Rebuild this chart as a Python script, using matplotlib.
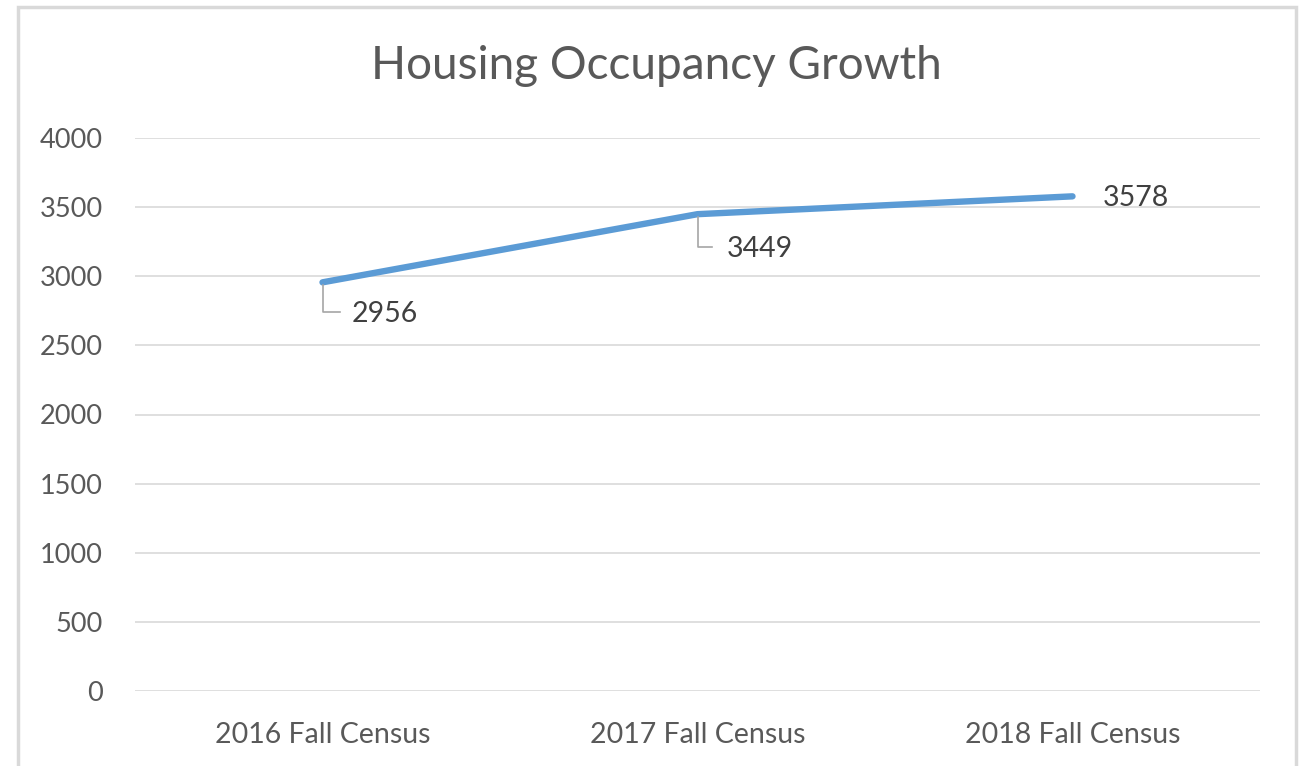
import matplotlib
matplotlib.use("Agg")
import matplotlib.pyplot as plt
from matplotlib.transforms import offset_copy
from matplotlib.patches import Rectangle
from matplotlib.lines import Line2D

categories = ["2016 Fall Census", "2017 Fall Census", "2018 Fall Census"]
values = [2956, 3449, 3578]
yticks = [0, 500, 1000, 1500, 2000, 2500, 3000, 3500, 4000]
title = "Housing Occupancy Growth"

plt.rcParams['font.family'] = ['Lato', 'DejaVu Sans']

W, H = 1304, 766
fig = plt.figure(figsize=(W / 100, H / 100), dpi=100)
ax = fig.add_axes([135 / W, 1 - 691 / H, (1260 - 135) / W, (691 - 138) / H])

# chart border
fig.patches.append(Rectangle((18 / W, -0.1), (1296 - 18) / W, 1.1 - 7 / H,
                             transform=fig.transFigure, fill=False,
                             edgecolor="#D9D9D9", linewidth=2.5))

xs = list(range(len(categories)))
ax.plot(xs, values, color="#5B9BD5", linewidth=4.6, solid_capstyle="round", zorder=3)

ax.set_xlim(-0.5, len(categories) - 0.5)
ax.set_ylim(0, 4000)
ax.set_yticks(yticks)
ax.set_yticklabels([str(v) for v in yticks])
ax.set_xticks(xs)
ax.set_xticklabels(categories)
ax.yaxis.grid(True, color="#D9D9D9", linewidth=1.2)
ax.set_axisbelow(True)
for s in ax.spines.values():
    s.set_visible(False)
ax.tick_params(axis="y", length=0, pad=23, labelsize=19.5, labelcolor="#595959")
ax.tick_params(axis="x", length=0, pad=22, labelsize=20.5, labelcolor="#595959")

fig.text(656 / W, 1 - 66 / H, title, ha="center", va="center",
         fontsize=33, color="#595959")

# data labels with leader lines (offsets in pixels)
label_offsets = [(-30, 17, 29), (-33, 14, 29), None]
fig.canvas.draw()
for i, (x, v) in enumerate(zip(xs, values)):
    off = label_offsets[i]
    if off is not None:
        dy, dx, tx = off
        p0 = ax.transData.transform((x, v))
        line = Line2D([p0[0], p0[0], p0[0] + dx], [p0[1] - 3, p0[1] + dy, p0[1] + dy],
                      transform=None, color="#A6A6A6", linewidth=1.2)
        fig.lines.append(line)
        tt = offset_copy(ax.transData, fig=fig, x=tx, y=dy - 2, units="dots")
        ax.text(x, v, str(v), transform=tt, ha="left", va="center",
                fontsize=20.5, color="#404040")
    else:
        tt = offset_copy(ax.transData, fig=fig, x=30, y=-2, units="dots")
        ax.text(x, v, str(v), transform=tt, ha="left", va="center",
                fontsize=20.5, color="#404040")

fig.savefig("out.png", dpi=100)
